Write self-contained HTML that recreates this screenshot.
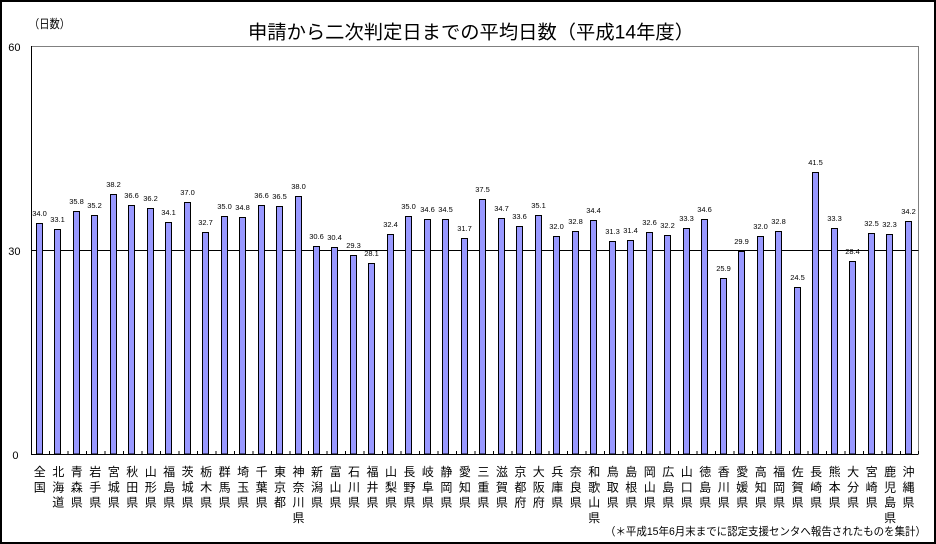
<!DOCTYPE html>
<html><head><meta charset="utf-8"><style>
html,body{margin:0;padding:0;background:#fff}
svg{display:block}
text{font-family:"Liberation Sans","Noto Sans CJK JP",sans-serif;fill:#000}
</style></head><body>
<svg width="936" height="544" viewBox="0 0 936 544" xmlns="http://www.w3.org/2000/svg">
<rect x="1" y="1" width="934" height="542" fill="#fff" stroke="#000" stroke-width="2"/>
<text x="248" y="38.5" font-size="19" textLength="446" lengthAdjust="spacingAndGlyphs">申請から二次判定日までの平均日数（平成14年度）</text>
<text x="29" y="28" font-size="12" textLength="41" lengthAdjust="spacingAndGlyphs">（日数）</text>
<text x="20.5" y="51" font-size="11" text-anchor="end">60</text>
<text x="20.5" y="255" font-size="11" text-anchor="end">30</text>
<text x="18.5" y="459" font-size="11" text-anchor="end">0</text>
<path d="M31.5 46.5H918.5V454" fill="none" stroke="#808080" stroke-width="1"/>
<path d="M31 250.5H918.5" stroke="#000" stroke-width="1"/>
<g fill="#9999FF" stroke="#000" stroke-width="1">
<rect x="36.5" y="223.5" width="6" height="230.5"/>
<rect x="54.5" y="229.5" width="6" height="224.5"/>
<rect x="73.5" y="211.5" width="6" height="242.5"/>
<rect x="91.5" y="215.5" width="6" height="238.5"/>
<rect x="110.5" y="194.5" width="6" height="259.5"/>
<rect x="128.5" y="205.5" width="6" height="248.5"/>
<rect x="147.5" y="208.5" width="6" height="245.5"/>
<rect x="165.5" y="222.5" width="6" height="231.5"/>
<rect x="184.5" y="202.5" width="6" height="251.5"/>
<rect x="202.5" y="232.5" width="6" height="221.5"/>
<rect x="221.5" y="216.5" width="6" height="237.5"/>
<rect x="239.5" y="217.5" width="6" height="236.5"/>
<rect x="258.5" y="205.5" width="6" height="248.5"/>
<rect x="276.5" y="206.5" width="6" height="247.5"/>
<rect x="295.5" y="196.5" width="6" height="257.5"/>
<rect x="313.5" y="246.5" width="6" height="207.5"/>
<rect x="331.5" y="247.5" width="6" height="206.5"/>
<rect x="350.5" y="255.5" width="6" height="198.5"/>
<rect x="368.5" y="263.5" width="6" height="190.5"/>
<rect x="387.5" y="234.5" width="6" height="219.5"/>
<rect x="405.5" y="216.5" width="6" height="237.5"/>
<rect x="424.5" y="219.5" width="6" height="234.5"/>
<rect x="442.5" y="219.5" width="6" height="234.5"/>
<rect x="461.5" y="238.5" width="6" height="215.5"/>
<rect x="479.5" y="199.5" width="6" height="254.5"/>
<rect x="498.5" y="218.5" width="6" height="235.5"/>
<rect x="516.5" y="226.5" width="6" height="227.5"/>
<rect x="535.5" y="215.5" width="6" height="238.5"/>
<rect x="553.5" y="236.5" width="6" height="217.5"/>
<rect x="572.5" y="231.5" width="6" height="222.5"/>
<rect x="590.5" y="220.5" width="6" height="233.5"/>
<rect x="609.5" y="241.5" width="6" height="212.5"/>
<rect x="627.5" y="240.5" width="6" height="213.5"/>
<rect x="646.5" y="232.5" width="6" height="221.5"/>
<rect x="664.5" y="235.5" width="6" height="218.5"/>
<rect x="683.5" y="228.5" width="6" height="225.5"/>
<rect x="701.5" y="219.5" width="6" height="234.5"/>
<rect x="720.5" y="278.5" width="6" height="175.5"/>
<rect x="738.5" y="251.5" width="6" height="202.5"/>
<rect x="757.5" y="236.5" width="6" height="217.5"/>
<rect x="775.5" y="231.5" width="6" height="222.5"/>
<rect x="794.5" y="287.5" width="6" height="166.5"/>
<rect x="812.5" y="172.5" width="6" height="281.5"/>
<rect x="831.5" y="228.5" width="6" height="225.5"/>
<rect x="849.5" y="261.5" width="6" height="192.5"/>
<rect x="868.5" y="233.5" width="6" height="220.5"/>
<rect x="886.5" y="234.5" width="6" height="219.5"/>
<rect x="905.5" y="221.5" width="6" height="232.5"/>
</g>
<path d="M31.5 46V455M31 454.5H918.5" stroke="#000" stroke-width="1" fill="none"/>
<path stroke="#000" stroke-width="1" d="M49.5 451V454M68 451V454M86.5 451V454M105 451V454M123.5 451V454M142 451V454M160.5 451V454M179 451V454M197.5 451V454M216 451V454M234.5 451V454M253 451V454M271.5 451V454M290 451V454M308.5 451V454M327 451V454M345.5 451V454M364 451V454M382.5 451V454M401 451V454M419.5 451V454M438 451V454M456.5 451V454M475 451V454M493.5 451V454M512 451V454M530.5 451V454M549 451V454M567.5 451V454M586 451V454M604.5 451V454M623 451V454M641.5 451V454M660 451V454M678.5 451V454M697 451V454M715.5 451V454M734 451V454M752.5 451V454M771 451V454M789.5 451V454M808 451V454M826.5 451V454M845 451V454M863.5 451V454M882 451V454M900.5 451V454M918.5 451V454"/>
<g font-size="7.5" text-anchor="middle">
<text x="39.5" y="216">34.0</text>
<text x="57.5" y="222">33.1</text>
<text x="76.5" y="204">35.8</text>
<text x="94.5" y="208">35.2</text>
<text x="113.5" y="187">38.2</text>
<text x="131.5" y="198">36.6</text>
<text x="150.5" y="201">36.2</text>
<text x="168.5" y="215">34.1</text>
<text x="187.5" y="195">37.0</text>
<text x="205.5" y="225">32.7</text>
<text x="224.5" y="209">35.0</text>
<text x="242.5" y="210">34.8</text>
<text x="261.5" y="198">36.6</text>
<text x="279.5" y="199">36.5</text>
<text x="298.5" y="189">38.0</text>
<text x="316.5" y="239">30.6</text>
<text x="334.5" y="240">30.4</text>
<text x="353.5" y="248">29.3</text>
<text x="371.5" y="256">28.1</text>
<text x="390.5" y="227">32.4</text>
<text x="408.5" y="209">35.0</text>
<text x="427.5" y="212">34.6</text>
<text x="445.5" y="212">34.5</text>
<text x="464.5" y="231">31.7</text>
<text x="482.5" y="192">37.5</text>
<text x="501.5" y="211">34.7</text>
<text x="519.5" y="219">33.6</text>
<text x="538.5" y="208">35.1</text>
<text x="556.5" y="229">32.0</text>
<text x="575.5" y="224">32.8</text>
<text x="593.5" y="213">34.4</text>
<text x="612.5" y="234">31.3</text>
<text x="630.5" y="233">31.4</text>
<text x="649.5" y="225">32.6</text>
<text x="667.5" y="228">32.2</text>
<text x="686.5" y="221">33.3</text>
<text x="704.5" y="212">34.6</text>
<text x="723.5" y="271">25.9</text>
<text x="741.5" y="244">29.9</text>
<text x="760.5" y="229">32.0</text>
<text x="778.5" y="224">32.8</text>
<text x="797.5" y="280">24.5</text>
<text x="815.5" y="165">41.5</text>
<text x="834.5" y="221">33.3</text>
<text x="852.5" y="254">28.4</text>
<text x="871.5" y="226">32.5</text>
<text x="889.5" y="227">32.3</text>
<text x="908.5" y="214">34.2</text>
</g>
<g font-size="12" text-anchor="middle">
<text><tspan x="39.7" y="476">全</tspan><tspan x="39.7" y="491.3">国</tspan></text>
<text><tspan x="58.2" y="476">北</tspan><tspan x="58.2" y="491.3">海</tspan><tspan x="58.2" y="506.6">道</tspan></text>
<text><tspan x="76.7" y="476">青</tspan><tspan x="76.7" y="491.3">森</tspan><tspan x="76.7" y="506.6">県</tspan></text>
<text><tspan x="95.2" y="476">岩</tspan><tspan x="95.2" y="491.3">手</tspan><tspan x="95.2" y="506.6">県</tspan></text>
<text><tspan x="113.7" y="476">宮</tspan><tspan x="113.7" y="491.3">城</tspan><tspan x="113.7" y="506.6">県</tspan></text>
<text><tspan x="132.2" y="476">秋</tspan><tspan x="132.2" y="491.3">田</tspan><tspan x="132.2" y="506.6">県</tspan></text>
<text><tspan x="150.7" y="476">山</tspan><tspan x="150.7" y="491.3">形</tspan><tspan x="150.7" y="506.6">県</tspan></text>
<text><tspan x="169.1" y="476">福</tspan><tspan x="169.1" y="491.3">島</tspan><tspan x="169.1" y="506.6">県</tspan></text>
<text><tspan x="187.6" y="476">茨</tspan><tspan x="187.6" y="491.3">城</tspan><tspan x="187.6" y="506.6">県</tspan></text>
<text><tspan x="206.1" y="476">栃</tspan><tspan x="206.1" y="491.3">木</tspan><tspan x="206.1" y="506.6">県</tspan></text>
<text><tspan x="224.6" y="476">群</tspan><tspan x="224.6" y="491.3">馬</tspan><tspan x="224.6" y="506.6">県</tspan></text>
<text><tspan x="243.1" y="476">埼</tspan><tspan x="243.1" y="491.3">玉</tspan><tspan x="243.1" y="506.6">県</tspan></text>
<text><tspan x="261.6" y="476">千</tspan><tspan x="261.6" y="491.3">葉</tspan><tspan x="261.6" y="506.6">県</tspan></text>
<text><tspan x="280.0" y="476">東</tspan><tspan x="280.0" y="491.3">京</tspan><tspan x="280.0" y="506.6">都</tspan></text>
<text><tspan x="298.5" y="476">神</tspan><tspan x="298.5" y="491.3">奈</tspan><tspan x="298.5" y="506.6">川</tspan><tspan x="298.5" y="522">県</tspan></text>
<text><tspan x="317.0" y="476">新</tspan><tspan x="317.0" y="491.3">潟</tspan><tspan x="317.0" y="506.6">県</tspan></text>
<text><tspan x="335.5" y="476">富</tspan><tspan x="335.5" y="491.3">山</tspan><tspan x="335.5" y="506.6">県</tspan></text>
<text><tspan x="354.0" y="476">石</tspan><tspan x="354.0" y="491.3">川</tspan><tspan x="354.0" y="506.6">県</tspan></text>
<text><tspan x="372.5" y="476">福</tspan><tspan x="372.5" y="491.3">井</tspan><tspan x="372.5" y="506.6">県</tspan></text>
<text><tspan x="391.0" y="476">山</tspan><tspan x="391.0" y="491.3">梨</tspan><tspan x="391.0" y="506.6">県</tspan></text>
<text><tspan x="409.4" y="476">長</tspan><tspan x="409.4" y="491.3">野</tspan><tspan x="409.4" y="506.6">県</tspan></text>
<text><tspan x="427.9" y="476">岐</tspan><tspan x="427.9" y="491.3">阜</tspan><tspan x="427.9" y="506.6">県</tspan></text>
<text><tspan x="446.4" y="476">静</tspan><tspan x="446.4" y="491.3">岡</tspan><tspan x="446.4" y="506.6">県</tspan></text>
<text><tspan x="464.9" y="476">愛</tspan><tspan x="464.9" y="491.3">知</tspan><tspan x="464.9" y="506.6">県</tspan></text>
<text><tspan x="483.4" y="476">三</tspan><tspan x="483.4" y="491.3">重</tspan><tspan x="483.4" y="506.6">県</tspan></text>
<text><tspan x="501.9" y="476">滋</tspan><tspan x="501.9" y="491.3">賀</tspan><tspan x="501.9" y="506.6">県</tspan></text>
<text><tspan x="520.4" y="476">京</tspan><tspan x="520.4" y="491.3">都</tspan><tspan x="520.4" y="506.6">府</tspan></text>
<text><tspan x="538.8" y="476">大</tspan><tspan x="538.8" y="491.3">阪</tspan><tspan x="538.8" y="506.6">府</tspan></text>
<text><tspan x="557.3" y="476">兵</tspan><tspan x="557.3" y="491.3">庫</tspan><tspan x="557.3" y="506.6">県</tspan></text>
<text><tspan x="575.8" y="476">奈</tspan><tspan x="575.8" y="491.3">良</tspan><tspan x="575.8" y="506.6">県</tspan></text>
<text><tspan x="594.3" y="476">和</tspan><tspan x="594.3" y="491.3">歌</tspan><tspan x="594.3" y="506.6">山</tspan><tspan x="594.3" y="522">県</tspan></text>
<text><tspan x="612.8" y="476">鳥</tspan><tspan x="612.8" y="491.3">取</tspan><tspan x="612.8" y="506.6">県</tspan></text>
<text><tspan x="631.3" y="476">島</tspan><tspan x="631.3" y="491.3">根</tspan><tspan x="631.3" y="506.6">県</tspan></text>
<text><tspan x="649.7" y="476">岡</tspan><tspan x="649.7" y="491.3">山</tspan><tspan x="649.7" y="506.6">県</tspan></text>
<text><tspan x="668.2" y="476">広</tspan><tspan x="668.2" y="491.3">島</tspan><tspan x="668.2" y="506.6">県</tspan></text>
<text><tspan x="686.7" y="476">山</tspan><tspan x="686.7" y="491.3">口</tspan><tspan x="686.7" y="506.6">県</tspan></text>
<text><tspan x="705.2" y="476">徳</tspan><tspan x="705.2" y="491.3">島</tspan><tspan x="705.2" y="506.6">県</tspan></text>
<text><tspan x="723.7" y="476">香</tspan><tspan x="723.7" y="491.3">川</tspan><tspan x="723.7" y="506.6">県</tspan></text>
<text><tspan x="742.2" y="476">愛</tspan><tspan x="742.2" y="491.3">媛</tspan><tspan x="742.2" y="506.6">県</tspan></text>
<text><tspan x="760.7" y="476">高</tspan><tspan x="760.7" y="491.3">知</tspan><tspan x="760.7" y="506.6">県</tspan></text>
<text><tspan x="779.1" y="476">福</tspan><tspan x="779.1" y="491.3">岡</tspan><tspan x="779.1" y="506.6">県</tspan></text>
<text><tspan x="797.6" y="476">佐</tspan><tspan x="797.6" y="491.3">賀</tspan><tspan x="797.6" y="506.6">県</tspan></text>
<text><tspan x="816.1" y="476">長</tspan><tspan x="816.1" y="491.3">崎</tspan><tspan x="816.1" y="506.6">県</tspan></text>
<text><tspan x="834.6" y="476">熊</tspan><tspan x="834.6" y="491.3">本</tspan><tspan x="834.6" y="506.6">県</tspan></text>
<text><tspan x="853.1" y="476">大</tspan><tspan x="853.1" y="491.3">分</tspan><tspan x="853.1" y="506.6">県</tspan></text>
<text><tspan x="871.6" y="476">宮</tspan><tspan x="871.6" y="491.3">崎</tspan><tspan x="871.6" y="506.6">県</tspan></text>
<text><tspan x="890.1" y="476">鹿</tspan><tspan x="890.1" y="491.3">児</tspan><tspan x="890.1" y="506.6">島</tspan><tspan x="890.1" y="522">県</tspan></text>
<text><tspan x="908.5" y="476">沖</tspan><tspan x="908.5" y="491.3">縄</tspan><tspan x="908.5" y="506.6">県</tspan></text>
</g>
<text x="605" y="535" font-size="11" textLength="321" lengthAdjust="spacingAndGlyphs">（＊平成15年6月末までに認定支援センタへ報告されたものを集計）</text>
</svg>
</body></html>
